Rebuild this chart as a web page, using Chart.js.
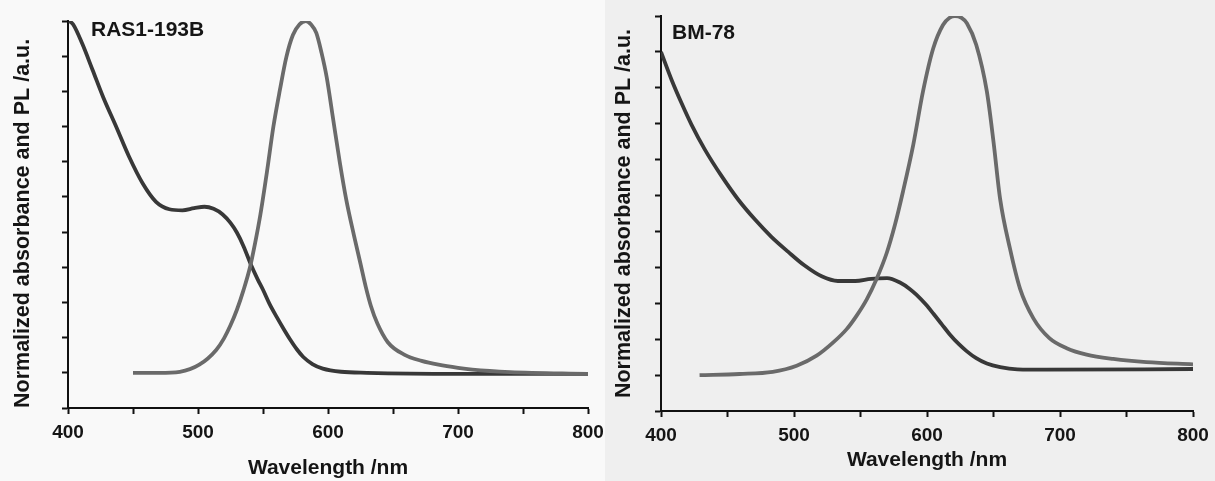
<!DOCTYPE html>
<html><head><meta charset="utf-8">
<script src="https://cdn.jsdelivr.net/npm/chart.js@4.4.0/dist/chart.umd.min.js"></script>
<style>
html,body{margin:0;padding:0;background:#f3f3f3;}
#wrap{position:relative;width:1215px;height:481px;overflow:hidden;}
#p1{position:absolute;left:0;top:0;width:605px;height:481px;background:#f9f9f9;}
#p2{position:absolute;left:605px;top:0;width:610px;height:481px;background:#efefef;}
canvas{display:block;}
</style></head><body>
<div id="wrap">
<div id="p1"><canvas id="c1" width="605" height="481"></canvas></div>
<div id="p2"><canvas id="c2" width="610" height="481"></canvas></div>
</div>
<script>
// ---- Data ----
const xTitle = 'Wavelength /nm';
const yTitle = 'Normalized absorbance and PL /a.u.';
const xTickLabels = [400, 500, 600, 700, 800];

const rasLabel = 'RAS1-193B';
const rasAbsWl  = [401, 404, 411, 419, 427, 437, 447, 457.5, 467.7, 478, 488, 497, 505, 512, 519, 525, 530, 535, 541, 546, 550, 555, 560.5, 566, 571, 576, 581, 588, 596, 610, 630, 700, 800];
const rasAbsVal = [1.0, 0.99, 0.935, 0.86, 0.784, 0.70, 0.614, 0.538, 0.486, 0.465, 0.462, 0.468, 0.472, 0.466, 0.45, 0.426, 0.398, 0.36, 0.305, 0.265, 0.236, 0.196, 0.159, 0.124, 0.094, 0.067, 0.045, 0.025, 0.012, 0.003, 0.0, -0.003, -0.003];
const rasPlWl   = [450, 470, 486, 501, 514, 520, 525, 530, 535, 540, 544, 548, 553, 558, 563, 568, 573, 578, 583, 587, 591, 595, 599, 604, 609, 614, 620, 625, 629, 633, 638, 646, 659, 672, 685, 700, 711, 740, 800];
const rasPlVal  = [0.0, 0.0, 0.003, 0.023, 0.065, 0.098, 0.135, 0.18, 0.235, 0.30, 0.37, 0.45, 0.57, 0.70, 0.804, 0.898, 0.96, 0.99, 1.0, 0.99, 0.966, 0.91, 0.84, 0.72, 0.60, 0.493, 0.39, 0.31, 0.245, 0.19, 0.14, 0.087, 0.051, 0.034, 0.023, 0.014, 0.009, 0.002, -0.003];

const bmLabel = 'BM-78';
const bmAbsWl  = [400, 408, 415.5, 423, 433, 445.6, 458, 470.7, 483, 495.7, 508, 520.8, 533, 546, 558, 570, 580, 587, 592, 599, 605, 611, 617, 624, 630, 637, 645, 655, 668, 690, 800];
const bmAbsVal = [0.9, 0.822, 0.757, 0.697, 0.628, 0.554, 0.489, 0.433, 0.385, 0.343, 0.305, 0.275, 0.262, 0.262, 0.268, 0.27, 0.257, 0.24, 0.224, 0.197, 0.17, 0.142, 0.114, 0.086, 0.066, 0.047, 0.032, 0.022, 0.016, 0.015, 0.017];
const bmPlWl   = [429, 459, 484, 502, 517, 529.5, 539.6, 547, 554.7, 562, 569.7, 576, 582, 589.7, 597, 604.7, 612, 617, 621, 626, 630, 637, 645, 650, 655, 662.4, 670, 680, 692, 705, 720, 740, 765, 800];
const bmPlVal  = [0.0, 0.003, 0.009, 0.026, 0.054, 0.091, 0.128, 0.165, 0.211, 0.267, 0.34, 0.42, 0.512, 0.642, 0.79, 0.91, 0.975, 0.995, 1.0, 0.995, 0.98, 0.92, 0.79, 0.65, 0.49, 0.352, 0.24, 0.158, 0.103, 0.075, 0.057, 0.045, 0.036, 0.03];

// ---- Helpers ----
const FONT = '"Liberation Sans", Arial, Helvetica, sans-serif';
const pts = (xs, ys) => xs.map((x, i) => ({x: x, y: ys[i]}));

const panelLabelPlugin = {
  id: 'panelLabel',
  afterDatasetsDraw(chart, args, opts) {
    const {ctx, chartArea} = chart;
    ctx.save();
    ctx.font = 'bold 21px ' + FONT;
    ctx.fillStyle = '#161616';
    ctx.textBaseline = 'middle';
    ctx.textAlign = 'left';
    ctx.fillText(opts.text, chartArea.left + opts.dx, opts.y);
    ctx.restore();
  }
};

function makePanel(id, p) {
  return new Chart(document.getElementById(id), {
    type: 'line',
    data: {
      datasets: [
        { label: 'PL', data: pts(p.plWl, p.plVal), borderColor: '#6a6a6a', borderWidth: 3.8,
          pointRadius: 0, fill: false, cubicInterpolationMode: 'monotone' },
        { label: 'Absorbance', data: pts(p.absWl, p.absVal), borderColor: '#383838', borderWidth: 3.8,
          pointRadius: 0, fill: false, cubicInterpolationMode: 'monotone' }
      ]
    },
    options: {
      responsive: false,
      animation: false,
      layout: { padding: { left: 0, right: p.padRight, top: p.padTop, bottom: 0 } },
      plugins: {
        legend: { display: false },
        tooltip: { enabled: false },
        panelLabel: { text: p.label, dx: p.labelDx, y: p.labelY }
      },
      scales: {
        x: {
          type: 'linear', min: 400, max: 800,
          border: { display: true, color: '#111', width: 2 },
          grid: { drawOnChartArea: false, drawTicks: true, tickLength: 6, tickColor: '#111', tickWidth: 2 },
          ticks: {
            stepSize: 50, padding: 7, color: '#151515',
            font: { family: FONT, size: 19, weight: 'bold' },
            maxRotation: 0, autoSkip: false,
            callback: v => xTickLabels.includes(v) ? String(v) : ''
          },
          title: { display: true, text: xTitle, color: '#151515',
                   font: { family: FONT, size: 21, weight: 'bold' },
                   padding: { top: 0, bottom: p.xTitlePad } },
          afterFit: s => { s.height = p.xHeight; s.paddingLeft = 0; s.paddingRight = 0; }
        },
        y: {
          type: 'linear', min: -0.1, max: 1.0,
          border: { display: true, color: '#111', width: 2 },
          grid: { drawOnChartArea: false, drawTicks: true, tickLength: 6, tickColor: '#111', tickWidth: 2 },
          ticks: { stepSize: 0.1, display: false },
          title: { display: true, text: yTitle, color: '#151515', align: p.yAlign,
                   font: { family: FONT, size: 21.5, weight: 'bold' },
                   padding: { top: p.yTitlePad, bottom: 0 } },
          afterFit: s => { s.width = p.yWidth; s.paddingTop = 0; s.paddingBottom = 0; }
        }
      }
    },
    plugins: [panelLabelPlugin]
  });
}

makePanel('c1', {
  absWl: rasAbsWl, absVal: rasAbsVal, plWl: rasPlWl, plVal: rasPlVal,
  label: rasLabel, labelDx: 23, labelY: 30,
  padRight: 17, padTop: 21, yWidth: 68, xHeight: 73,
  xTitlePad: 0, yTitlePad: 10, yAlign: 'start'
});
makePanel('c2', {
  absWl: bmAbsWl, absVal: bmAbsVal, plWl: bmPlWl, plVal: bmPlVal,
  label: bmLabel, labelDx: 11, labelY: 33,
  padRight: 22, padTop: 16, yWidth: 56, xHeight: 70,
  xTitlePad: 8, yTitlePad: 6, yAlign: 'center'
});
</script>
</body></html>
